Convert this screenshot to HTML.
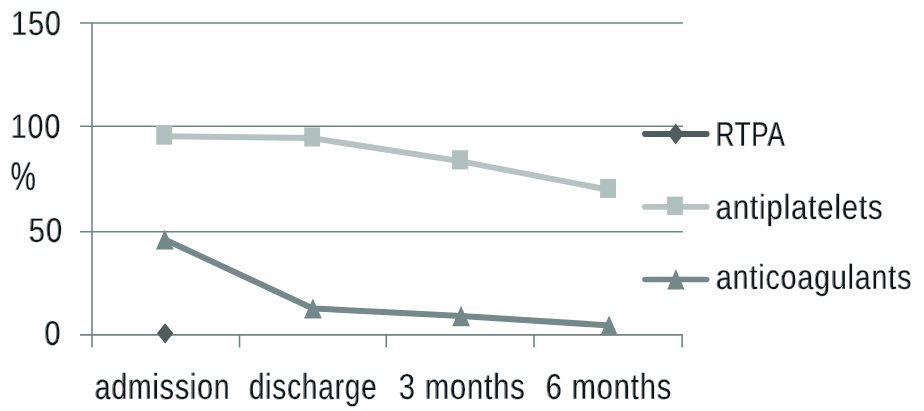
<!DOCTYPE html>
<html>
<head>
<meta charset="utf-8">
<title>Chart</title>
<style>
html,body{margin:0;padding:0;background:#fff;}
body{width:924px;height:411px;overflow:hidden;}
svg{display:block;}
text{font-family:"Liberation Sans",sans-serif;fill:#10181a;stroke:#ffffff;stroke-width:0.3px;text-rendering:geometricPrecision;}
</style>
</head>
<body>
<svg width="924" height="411" viewBox="0 0 924 411">
<defs><filter id="bl" x="-5%" y="-5%" width="110%" height="110%"><feGaussianBlur stdDeviation="0.5"/></filter></defs>
<rect x="0" y="0" width="924" height="411" fill="#ffffff"/>
<g filter="url(#bl)">
<g id="grid" stroke="#718583" stroke-width="1.6" fill="none">
  <line x1="80" y1="23" x2="682.9" y2="23"/>
  <line x1="80" y1="126.3" x2="682.9" y2="126.3"/>
  <line x1="80" y1="231.7" x2="682.9" y2="231.7"/>
  <line x1="80" y1="334.9" x2="682.9" y2="334.9"/>
  <line x1="92" y1="22.2" x2="92" y2="347.5"/>
  <line x1="239.5" y1="334.9" x2="239.5" y2="347.5"/>
  <line x1="386.3" y1="334.9" x2="386.3" y2="347.5"/>
  <line x1="534" y1="334.9" x2="534" y2="347.5"/>
  <line x1="682.1" y1="334.9" x2="682.1" y2="347.5"/>
</g>
<g id="series-antiplatelets">
  <polyline points="164.1,136.3 312.1,138.1 460,161.1 608,189.7" fill="none" stroke="#b6c3c2" stroke-width="6" stroke-linejoin="round"/>
  <g fill="#b1bfbe">
    <rect x="156.2" y="125.6" width="15.9" height="19.1"/>
    <rect x="304.2" y="127.4" width="15.9" height="19.1"/>
    <rect x="452.1" y="150.3" width="15.9" height="19.1"/>
    <rect x="600.1" y="178.9" width="15.9" height="19.1"/>
  </g>
</g>
<g id="series-anticoagulants">
  <polyline points="164.8,239.5 312.9,308.5 461.1,316 609.1,325.4" fill="none" stroke="#74898a" stroke-width="6" stroke-linejoin="round"/>
  <g fill="#73888a">
    <polygon points="164.8,229.4 173.7,249.6 155.9,249.6"/>
    <polygon points="312.9,298.4 321.8,318.6 304,318.6"/>
    <polygon points="461.1,305.8 470,326.3 452.2,326.3"/>
    <polygon points="609.1,315.4 617.8,335.4 600.4,335.4"/>
  </g>
</g>
<g id="series-rtpa" fill="#4f5d5f">
  <polygon points="165.1,323.2 173.4,333.3 165.1,343.5 156.9,333.3"/>
</g>
<g id="legend">
  <line x1="645" y1="134" x2="706.7" y2="134" stroke="#4f5d5f" stroke-width="5.8" stroke-linecap="round"/>
  <polygon points="675.7,123.6 683.8,134.1 675.7,144.6 667.6,134.1" fill="#4f5d5f"/>
  <line x1="645" y1="206.9" x2="706.7" y2="206.9" stroke="#b6c3c2" stroke-width="5.7" stroke-linecap="round"/>
  <rect x="667.2" y="196.6" width="15.6" height="18.5" fill="#b1bfbe"/>
  <line x1="645" y1="279.5" x2="706.7" y2="279.5" stroke="#74898a" stroke-width="5.6" stroke-linecap="round"/>
  <polygon points="675.9,269 684.5,289.5 667.2,289.5" fill="#73888a"/>
</g>

<g id="labels">
  <text id="t150" font-size="34.5" letter-spacing="1.3" transform="translate(10.83,35) scale(0.823,1)">150</text>
  <use href="#t150" transform="translate(0.7,0)"/>
  <text id="t100" font-size="34.5" letter-spacing="1.3" transform="translate(10.277,138) scale(0.823,1)">100</text>
  <use href="#t100" transform="translate(0.7,0)"/>
  <text id="tpct" font-size="40.3" letter-spacing="0" transform="translate(10.16,190) scale(0.705,1)">%</text>
  <use href="#tpct" transform="translate(0.7,0)"/>
  <text id="t50" font-size="34.5" letter-spacing="1.3" transform="translate(28.257,242) scale(0.843,1)">50</text>
  <use href="#t50" transform="translate(0.7,0)"/>
  <text id="t0" font-size="34.5" letter-spacing="0" transform="translate(44.007,345) scale(0.83,1)">0</text>
  <use href="#t0" transform="translate(0.7,0)"/>
  <text id="adm" font-size="36.2" letter-spacing="1.2" transform="translate(94.253,399) scale(0.782,1)">admission</text>
  <use href="#adm" transform="translate(0.7,0)"/>
  <text id="dis" font-size="36.2" letter-spacing="1.2" transform="translate(248.48,399) scale(0.767,1)">discharge</text>
  <use href="#dis" transform="translate(0.7,0)"/>
  <text id="m3" font-size="36.2" letter-spacing="1.2" transform="translate(398.385,399) scale(0.801,1)">3 months</text>
  <use href="#m3" transform="translate(0.7,0)"/>
  <text id="m6" font-size="36.2" letter-spacing="1.2" transform="translate(545.229,399) scale(0.799,1)">6 months</text>
  <use href="#m6" transform="translate(0.7,0)"/>
  <text id="rtpa" font-size="34.4" letter-spacing="1" transform="translate(715.305,146) scale(0.754,1)">RTPA</text>
  <use href="#rtpa" transform="translate(0.7,0)"/>
  <text id="apl" font-size="35" letter-spacing="1.2" transform="translate(715.326,219) scale(0.829,1)">antiplatelets</text>
  <use href="#apl" transform="translate(0.7,0)"/>
  <text id="aco" font-size="35" letter-spacing="1.2" transform="translate(715.617,289) scale(0.809,1)">anticoagulants</text>
  <use href="#aco" transform="translate(0.7,0)"/>
</g>
</g>
</svg>
</body>
</html>
